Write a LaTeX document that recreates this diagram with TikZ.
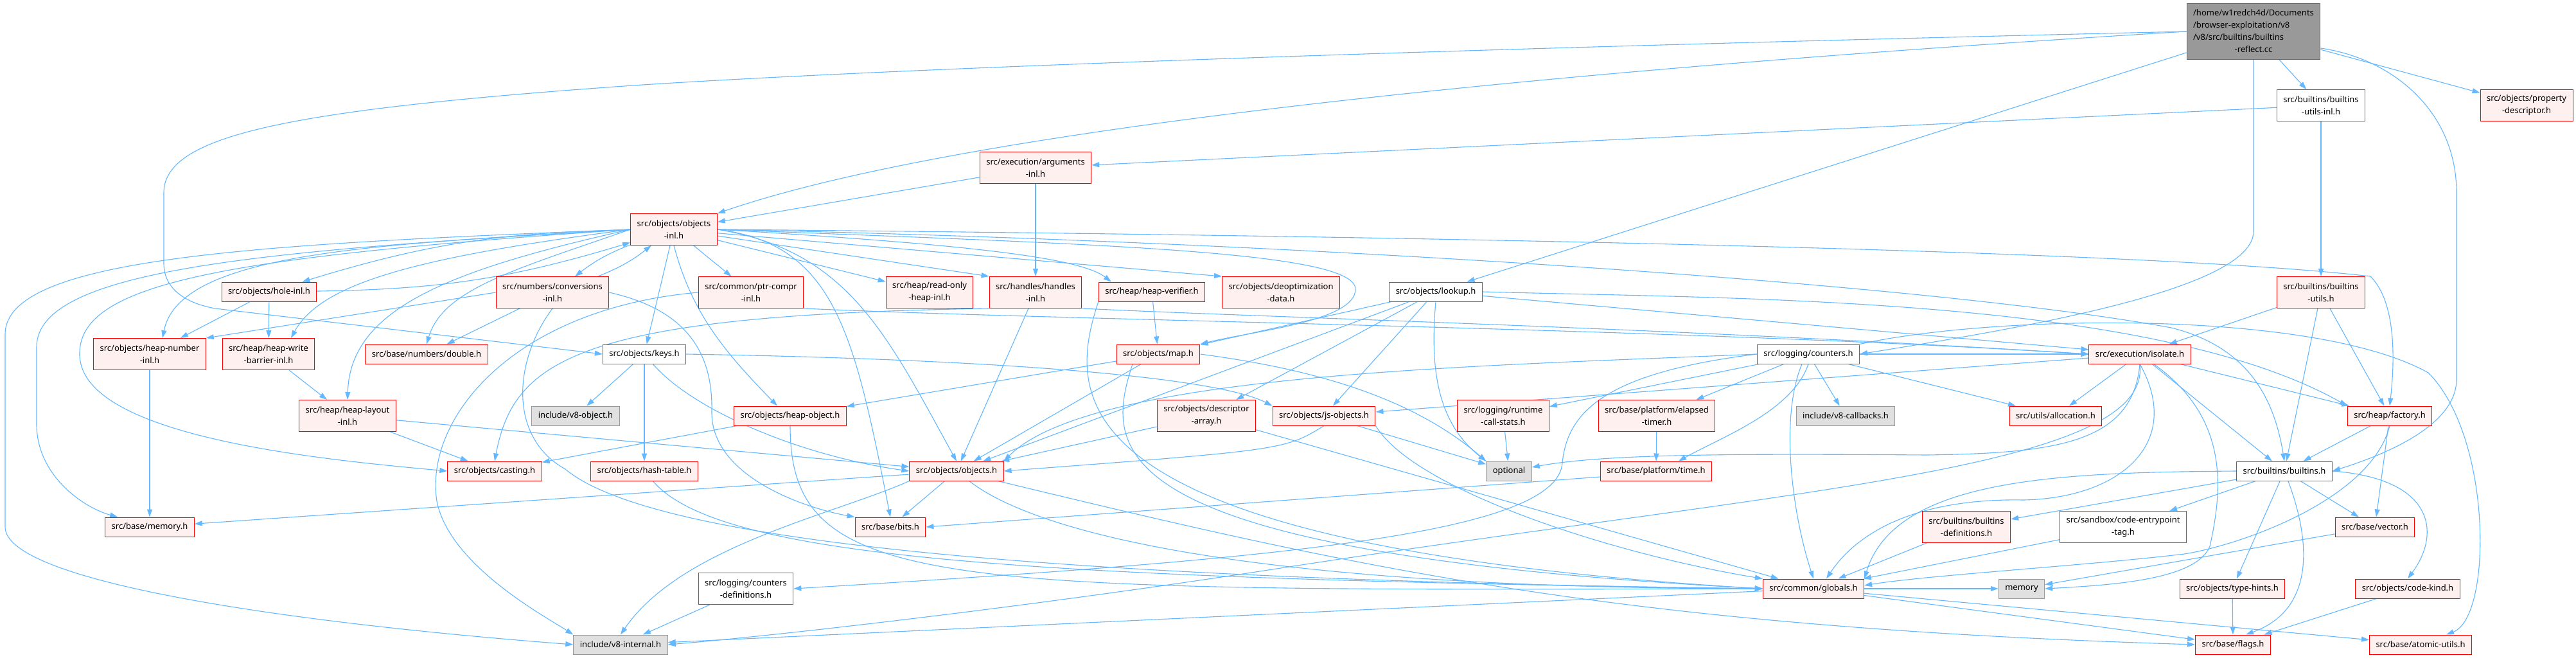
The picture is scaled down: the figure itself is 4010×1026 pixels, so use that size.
\documentclass[tikz,border=0pt]{standalone}
\usepackage{fontspec}
\setmainfont{Noto Sans}
\usetikzlibrary{arrows.meta}
\definecolor{dxedge}{HTML}{63B8FF}
\definecolor{dxred}{HTML}{FF0000}
\definecolor{dxpink}{HTML}{FFF0F0}
\definecolor{dxgrey}{HTML}{E0E0E0}
\definecolor{dxframe}{HTML}{999999}
\definecolor{dxdark}{HTML}{666666}
\pgfdeclarelayer{back}
\pgfsetlayers{back,main}

\begin{document}
\begin{tikzpicture}[x=1pt, y=-1pt,
    hdr/.style={rectangle, line width=1pt, inner xsep=10pt, inner ysep=2pt,
                minimum height=30pt, font=\fontsize{13}{19}\selectfont, align=center},
    redbox/.style={hdr, draw=dxred, fill=dxpink},
    whitebox/.style={hdr, draw=dxdark, fill=white},
    greybox/.style={hdr, draw=dxframe, fill=dxgrey},
    twoline/.style={minimum height=49pt},
    inc/.style={draw=dxedge, line width=1.1pt, -{Triangle[length=12pt,width=8pt]}}
  ]
    \useasboundingbox (0,0) rectangle (4010,1026);

    \node[hdr, draw=dxdark, fill=dxframe, minimum height=87pt] (main) at (3508,49)
      {\begin{tabular}{@{}l@{}}/home/w1redch4d/Documents\\/browser-exploitation/v8\\/v8/src/builtins/builtins\\\multicolumn{1}{@{}c@{}}{-reflect.cc}\end{tabular}};

    \node[whitebox, twoline] (butilsinl) at (3613,164) {src/builtins/builtins\\-utils-inl.h};
    \node[redbox, twoline] (propdesc) at (3933,164) {src/objects/property\\-descriptor.h};
    \node[redbox, twoline] (argsinl) at (1612,261) {src/execution/arguments\\-inl.h};
    \node[redbox, twoline] (objinl) at (1049,357) {src/objects/objects\\-inl.h};

    \node[redbox] (holeinl) at (419,454) {src/objects/hole-inl.h};
    \node[redbox, twoline] (convinl) at (860,455) {src/numbers/conversions\\-inl.h};
    \node[redbox, twoline] (ptrcompr) at (1169,455) {src/common/ptr-compr\\-inl.h};
    \node[redbox, twoline] (roheap) at (1447,455) {src/heap/read-only\\-heap-inl.h};
    \node[redbox, twoline] (handlesinl) at (1612,455) {src/handles/handles\\-inl.h};
    \node[redbox] (heapverif) at (1793,454) {src/heap/heap-verifier.h};
    \node[redbox, twoline] (deopt) at (1994,455) {src/objects/deoptimization\\-data.h};
    \node[whitebox] (lookup) at (2235,454) {src/objects/lookup.h};
    \node[redbox, twoline] (butils) at (3613,455) {src/builtins/builtins\\-utils.h};

    \node[redbox, twoline] (heapnum) at (233,551) {src/objects/heap-number\\-inl.h};
    \node[redbox, twoline] (writebar) at (418,551) {src/heap/heap-write\\-barrier-inl.h};
    \node[redbox] (double) at (664,551) {src/base/numbers/double.h};
    \node[whitebox] (keys) at (1003,551) {src/objects/keys.h};
    \node[redbox] (map) at (1803,551) {src/objects/map.h};
    \node[whitebox] (counters) at (2815,551) {src/logging/counters.h};
    \node[redbox] (isolate) at (3331,551) {src/execution/isolate.h};

    \node[redbox, twoline] (heaplayout) at (541,647) {src/heap/heap-layout\\-inl.h};
    \node[greybox] (v8object) at (896,647) {include/v8-object.h};
    \node[redbox] (heapobj) at (1230,647) {src/objects/heap-object.h};
    \node[redbox, twoline] (descarr) at (1878,647) {src/objects/descriptor\\-array.h};
    \node[redbox] (jsobj) at (2061,647) {src/objects/js-objects.h};
    \node[redbox, twoline] (rcs) at (2340,647) {src/logging/runtime\\-call-stats.h};
    \node[redbox, twoline] (elapsed) at (2579,647) {src/base/platform/elapsed\\-timer.h};
    \node[greybox] (callbacks) at (2873,647) {include/v8-callbacks.h};
    \node[redbox] (alloc) at (3200,647) {src/utils/allocation.h};
    \node[redbox] (factory) at (3720,647) {src/heap/factory.h};

    \node[redbox] (casting) at (770,733) {src/objects/casting.h};
    \node[redbox] (hashtable) at (1003,733) {src/objects/hash-table.h};
    \node[redbox] (objects) at (1489,733) {src/objects/objects.h};
    \node[greybox] (optional) at (2349,733) {optional};
    \node[redbox] (ptime) at (2578,733) {src/base/platform/time.h};
    \node[whitebox] (builtins) at (3556,733) {src/builtins/builtins.h};

    \node[redbox] (memoryh) at (233,820) {src/base/memory.h};
    \node[redbox] (bits) at (1386,820) {src/base/bits.h};
    \node[redbox, twoline] (bdefs) at (3061,820) {src/builtins/builtins\\-definitions.h};
    \node[whitebox, twoline] (cetag) at (3305,820) {src/sandbox/code-entrypoint\\-tag.h};
    \node[redbox] (vector) at (3697,820) {src/base/vector.h};

    \node[whitebox, twoline] (cntdefs) at (1161,916) {src/logging/counters\\-definitions.h};
    \node[redbox] (globals) at (2823,916) {src/common/globals.h};
    \node[greybox] (memory) at (3147,916) {memory};
    \node[redbox] (typehints) at (3475,916) {src/objects/type-hints.h};
    \node[redbox] (codekind) at (3748,916) {src/objects/code-kind.h};

    \node[greybox] (v8internal) at (966,1003) {include/v8-internal.h};
    \node[redbox] (flags) at (3476,1003) {src/base/flags.h};
    \node[redbox] (atomic) at (3768,1003) {src/base/atomic-utils.h};

    \begin{pgfonlayer}{back}
    \fill[white] (0,0) rectangle (4010,1026);

    \draw[inc] (main) -- (butilsinl);
    \draw[inc] (main) -- (propdesc);
    \draw[inc] (main) -- (lookup);
    \draw[inc] ([yshift=-26pt]main.east) .. controls (3720,90) and (3824,170) .. (3824,300) -- (3824,590) .. controls (3824,660) and (3720,705) .. (builtins.east);
    \draw[inc] (main.south) -- (3508,360) .. controls (3508,450) and (3150,510) .. (counters.east);
    \draw[inc] (main.west) .. controls (2400,110) and (1500,200) .. (objinl.north east);
    \draw[inc] (main.west) .. controls (2500,70) and (1500,100) .. (1000,132) .. controls (450,170) and (255,210) .. (255,300) -- (255,410) .. controls (255,450) and (290,472) .. (335,480) -- (keys.west);

    \draw[inc] (butilsinl) -- (argsinl);
    \draw[inc] (butilsinl) -- (butils);
    \draw[inc] (butils) -- (isolate);
    \draw[inc] (butils) -- (builtins);
    \draw[inc] (butils) -- (factory);
    \draw[inc] (argsinl) -- (objinl);
    \draw[inc] (argsinl) -- (handlesinl);

    \draw[inc] (objinl) to[bend right=8] (holeinl);
    \draw[inc] (holeinl) to[bend right=8] (objinl);
    \draw[inc] (objinl) to[bend right=8] (convinl);
    \draw[inc] (convinl) to[bend right=8] (objinl);
    \draw[inc] (objinl) -- (ptrcompr);
    \draw[inc] (objinl) -- (roheap);
    \draw[inc] (objinl) -- (handlesinl.north west);
    \draw[inc] (objinl.east) .. controls (1500,380) and (1680,400) .. ([xshift=20pt]heapverif.north west);
    \draw[inc] (objinl) -- (deopt.north west);
    \draw[inc] (objinl) -- (keys);
    \draw[inc] (objinl.south) .. controls (1075,480) and (1120,540) .. ([xshift=-20pt]heapobj.north);
    \draw[inc] (objinl.east) .. controls (1300,380) and (1330,520) .. (bits.north);
    \draw[inc] (objinl.east) .. controls (1320,390) and (1380,520) .. (objects.north);
    \draw[inc] (objinl.west) .. controls (600,380) and (280,390) .. ([xshift=20pt]heapnum.north);
    \draw[inc] (objinl.west) .. controls (650,400) and (500,440) .. ([xshift=35pt]writebar.north);
    \draw[inc] (objinl.west) .. controls (800,420) and (690,450) .. (double.north);
    \draw[inc] (objinl.west) .. controls (700,420) and (545,480) .. (heaplayout.north);
    \draw[inc] (objinl.west) .. controls (350,400) and (120,440) .. (124,553) .. controls (128,680) and (500,715) .. (casting.west);
    \draw[inc] (objinl.west) .. controls (400,390) and (57,420) .. (57,540) -- (57,660) .. controls (57,740) and (130,790) .. ([xshift=20pt]memoryh.north west);
    \draw[inc] (objinl.west) .. controls (400,380) and (8,400) .. (8,520) -- (8,820) .. controls (8,900) and (400,965) .. (v8internal.west);
    \draw[inc] (objinl.east) .. controls (2000,365) and (3300,385) .. (3690,430) .. controls (3730,470) and (3728,560) .. (factory.north);
    \draw[inc] (objinl.east) .. controls (2000,375) and (3000,440) .. (3380,510) .. controls (3500,540) and (3540,620) .. (builtins.north);
    \draw[inc] (objinl.east) .. controls (1700,380) and (2110,390) .. (2110,450) .. controls (2110,500) and (1950,515) .. (map.north east);

    \draw[inc] (holeinl) -- (heapnum);
    \draw[inc] (holeinl) -- (writebar);
    \draw[inc] (convinl.west) -- (heapnum.north east);
    \draw[inc] (convinl) -- (double);
    \draw[inc] (convinl.east) .. controls (1060,480) and (1110,540) .. (1108,640) .. controls (1106,740) and (1250,790) .. (bits.north west);
    \draw[inc] (convinl.south) .. controls (800,560) and (790,680) .. (880,730) .. controls (1000,830) and (1500,900) .. (globals.west);

    \draw[inc] (ptrcompr.west) .. controls (800,480) and (660,650) .. (680,780) .. controls (700,880) and (850,960) .. (v8internal.north west);
    \draw[inc] (ptrcompr.south east) .. controls (1700,500) and (2600,510) .. (isolate.west);
    \draw[inc] (handlesinl) -- (objects);
    \draw[inc] (handlesinl.south east) .. controls (2000,495) and (2600,510) .. (isolate.west);
    \draw[inc] (handlesinl.south west) .. controls (900,490) and (800,560) .. (casting.north);
    \draw[inc] (heapverif) -- (map);
    \draw[inc] (heapverif.south west) .. controls (1660,620) and (1640,850) .. (globals.west);

    \draw[inc] (lookup) -- (objects);
    \draw[inc] (lookup) -- (map);
    \draw[inc] (lookup) -- (descarr);
    \draw[inc] (lookup) -- (jsobj);
    \draw[inc] (lookup.south) .. controls (2225,580) and (2240,660) .. (optional.north west);
    \draw[inc] (lookup) -- (isolate);
    \draw[inc] (lookup.east) .. controls (2700,465) and (3350,460) .. (factory.north west);

    \draw[inc] (keys) -- (v8object);
    \draw[inc] (keys) -- (hashtable);
    \draw[inc] (keys) .. controls (1080,640) and (1250,710) .. (objects.west);
    \draw[inc] (keys.east) .. controls (1600,560) and (1900,590) .. (jsobj.north west);

    \draw[inc] (heapnum) -- (memoryh);
    \draw[inc] (writebar) -- (heaplayout);
    \draw[inc] (heaplayout) -- (casting);
    \draw[inc] (heaplayout) -- (objects);
    \draw[inc] (heapobj) -- (casting);
    \draw[inc] (heapobj.south) .. controls (1230,920) and (1450,920) .. (globals.west);

    \draw[inc] (map) -- (heapobj);
    \draw[inc] (map) -- (objects);
    \draw[inc] (map.east) .. controls (2050,575) and (2200,620) .. (optional.north west);
    \draw[inc] ([xshift=-40pt]map.south) .. controls (1720,700) and (1700,860) .. (globals.west);
    \draw[inc] (descarr) -- (objects);
    \draw[inc] (descarr) -- (globals);
    \draw[inc] (jsobj.south) .. controls (2000,700) .. (objects.east);
    \draw[inc] (jsobj) -- (optional);
    \draw[inc] (jsobj.south east) .. controls (2200,760) and (2500,860) .. (globals.north west);
    \draw[inc] (rcs) -- (optional);
    \draw[inc] (elapsed) -- (ptime);
    \draw[inc] ([yshift=-9pt]ptime.west) -- (bits.east);

    \draw[inc] (counters.west) .. controls (2300,570) and (1700,580) .. (objects.north east);
    \draw[inc] (counters.west) .. controls (2500,580) and (2440,640) .. (2432,720) .. controls (2425,830) and (2000,870) .. (cntdefs.east);
    \draw[inc] (counters) -- (rcs);
    \draw[inc] (counters) -- (elapsed);
    \draw[inc] (counters.south) .. controls (2790,640) and (2680,680) .. ([xshift=35pt]ptime.north);
    \draw[inc] (counters) -- (callbacks);
    \draw[inc] ([xshift=-10pt]counters.south) .. controls (2770,650) and (2790,800) .. (globals.north);
    \draw[inc] (counters) -- (isolate);
    \draw[inc] (counters) -- (alloc);
    \draw[inc] (counters.north east) .. controls (3100,490) and (3600,480) .. (3780,580) .. controls (3880,680) and (3880,960) .. ([xshift=40pt]atomic.north);

    \draw[inc] (isolate) -- (jsobj);
    \draw[inc] (isolate) -- (alloc);
    \draw[inc] (isolate) -- (factory);
    \draw[inc] (isolate) -- (builtins);
    \draw[inc] (isolate.south) .. controls (3320,690) and (3200,705) .. (3000,708) .. controls (2700,706) and (2500,706) .. ([yshift=6pt]optional.east);
    \draw[inc] (isolate.south) .. controls (3350,730) and (2800,760) .. (2000,883) .. controls (1600,945) and (1200,990) .. (v8internal.east);
    \draw[inc] (isolate.south) .. controls (3400,690) and (3300,775) .. (3150,778) .. controls (2980,775) and (2890,830) .. ([xshift=20pt]globals.north);
    \draw[inc] (isolate) .. controls (3470,650) and (3460,760) .. (3440,850) .. controls (3420,900) and (3300,910) .. (memory.east);

    \draw[inc] (builtins) -- (bdefs);
    \draw[inc] (builtins) -- (cetag);
    \draw[inc] (builtins) -- (typehints);
    \draw[inc] (builtins) -- (vector);
    \draw[inc] (builtins) .. controls (3600,850) and (3600,950) .. ([xshift=20pt]flags.north);
    \draw[inc] (builtins.east) .. controls (3790,745) and (3800,830) .. (codekind.north);
    \draw[inc] (builtins.west) .. controls (3200,735) and (2950,745) .. (globals.north east);
    \draw[inc] (factory) -- (builtins);
    \draw[inc] (factory) -- (vector);
    \draw[inc] (factory.south) .. controls (3690,780) and (3480,850) .. (3400,862) .. controls (3250,880) and (3000,895) .. ([yshift=5pt]globals.east);

    \draw[inc] (bdefs) -- (globals);
    \draw[inc] (cetag) -- (globals);
    \draw[inc] (vector) -- (memory);
    \draw[inc] (typehints) -- (flags);
    \draw[inc] (codekind) -- (flags);
    \draw[inc] (globals) -- (memory);
    \draw[inc] (globals) -- (flags);
    \draw[inc] (globals) -- (atomic);
    \draw[inc] (globals) -- (v8internal);

    \draw[inc] (objects) -- (memoryh);
    \draw[inc] (objects.south west) .. controls (1300,800) and (1060,850) .. (v8internal.north);
    \draw[inc] (objects) -- (bits);
    \draw[inc] (objects) .. controls (1600,820) and (1900,915) .. (globals.west);
    \draw[inc] (objects) .. controls (2100,880) and (2500,975) .. (flags.west);
    \draw[inc] (hashtable) .. controls (1120,870) and (1600,900) .. (globals.west);
    \draw[inc] (cntdefs) -- (v8internal);
    \end{pgfonlayer}
  \end{tikzpicture}
\end{document}
